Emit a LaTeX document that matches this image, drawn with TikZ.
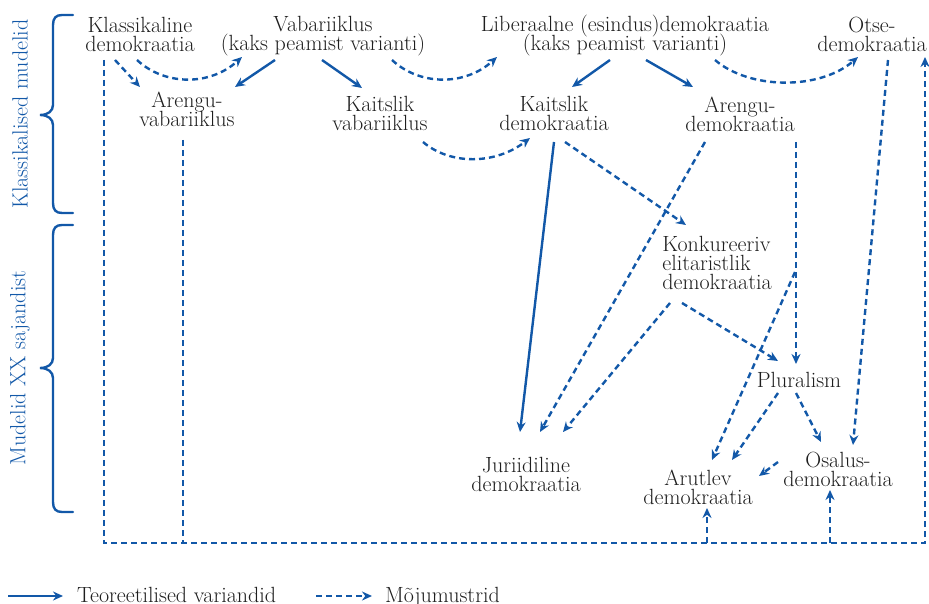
\documentclass[tikz,border=0pt]{standalone}
\usetikzlibrary{arrows.meta,calc}
\definecolor{cblue}{RGB}{18,88,168}
\definecolor{ctext}{RGB}{30,30,30}
\newcommand\mylblfont{\fontsize{22}{19}\selectfont\lineskiplimit=-20pt\relax}
\begin{document}
\begin{tikzpicture}[x=1pt,y=-1pt,
  lbl/.style={inner sep=0pt,align=center,text=ctext,font=\mylblfont},
  side/.style={inner sep=0pt,text=cblue,font=\mylblfont,rotate=90},
  theo/.style={draw=cblue,line width=2.4pt,-{Stealth[length=10pt,width=9pt]}},
  dep/.style={draw=cblue,line width=2.4pt,dash pattern=on 6pt off 4pt,-{Stealth[length=10pt,width=9pt]}},
  depline/.style={draw=cblue,line width=2.4pt,dash pattern=on 6pt off 4pt},
  bracepath/.style={draw=cblue,line width=2.4pt,line cap=round}]
\useasboundingbox (0,0) rectangle (929,604);

% nodes
\node[lbl] (klass) at (140,34) {Klassikaline\\demokraatia};
\node[lbl] (vab) at (323,36.5) {Vabariiklus\\(kaks peamist varianti)};
\node[lbl] (arv) at (187,109) {Arengu-\\vabariiklus};
\node[lbl] (kv) at (380,113) {Kaitslik\\vabariiklus};
\node[lbl] (lib) at (625,36) {Liberaalne (esindus)demokraatia\\(kaks peamist varianti)};
\node[lbl] (otse) at (872,34) {Otse-\\demokraatia};
\node[lbl] (kd) at (554,113.5) {Kaitslik\\demokraatia};
\node[lbl] (ad) at (740,114) {Arengu-\\demokraatia};
\node[lbl,align=left] (konk) at (717,263) {Konkureeriv\\elitaristlik\\demokraatia};
\node[lbl] (plur) at (799,380) {Pluralism};
\node[lbl] (jur) at (526,474) {Juriidiline\\demokraatia};
\node[lbl] (arut) at (698,487) {Arutlev\\demokraatia};
\node[lbl] (osal) at (838,469) {Osalus-\\demokraatia};

\node[side] (sid1) at (20,114) {Klassikalised mudelid};
\node[side] (sid2) at (20,368) {Mudelid XX sajandist};

% braces
\draw[bracepath] (73,15) -- (62,15) .. controls (56,15) and (53,18) .. (53,25) -- (53,105)
  .. controls (53,111) and (48,115) .. (40,115) .. controls (48,115) and (53,119) .. (53,125)
  -- (53,203) .. controls (53,210) and (56,213) .. (62,213) -- (73,213);
\draw[bracepath] (73,225) -- (62,225) .. controls (56,225) and (53,228) .. (53,235) -- (53,358)
  .. controls (53,364) and (48,368) .. (40,368) .. controls (48,368) and (53,372) .. (53,378)
  -- (53,502) .. controls (53,509) and (56,512) .. (62,512) -- (73,512);

% top row connectors
\draw[dep] ($(klass)+(-25,26)$) -- ($(arv)+(-47,-22)$);
\draw[dep] ($(klass)+(-3,26)$) .. controls (165,86) and (210,86) .. ($(vab)+(-81,20.5)$);
\draw[theo] ($(vab)+(-48,23.5)$) -- ($(arv)+(48,-22)$);
\draw[theo] ($(vab)+(-1,23.5)$) -- ($(kv)+(-18,-25)$);
\draw[dep] ($(vab)+(69,23.5)$) .. controls (420,86) and (465,86) .. ($(lib)+(-128,21)$);
\draw[dep] ($(kv)+(43,29)$) .. controls (450,165) and (495,165) .. ($(kd)+(-24,24.5)$);
\draw[theo] ($(lib)+(-15,24)$) -- ($(kd)+(18,-26.5)$);
\draw[theo] ($(lib)+(21,24)$) -- ($(ad)+(-47,-27)$);
\draw[dep] ($(lib)+(90,24)$) .. controls (750,90) and (820,90) .. ($(otse)+(-14,23)$);

% lower connectors
\draw[theo] ($(kd)+(0,28.5)$) -- ($(jur)+(-6,-42)$);
\draw[dep] ($(kd)+(11,28.5)$) -- ($(konk)+(-31,-38)$);
\draw[dep] ($(ad)+(-35,28)$) -- ($(jur)+(14,-42)$);
\draw[dep] ($(konk)+(-47,40)$) -- ($(jur)+(37,-42)$);
\draw[dep] ($(konk)+(-35,40)$) -- ($(plur)+(-21,-19)$);
\draw[dep] ($(ad)+(56,28)$) -- ($(plur)+(-3,-16)$);
\coordinate (brpt) at ($(ad)+(55,158)$);
\draw[dep] (brpt) -- ($(arut)+(14,-27)$);
\draw[dep] ($(plur)+(-21,13)$) -- ($(arut)+(34,-27)$);
\draw[dep] ($(plur)+(-3,13)$) -- ($(osal)+(-17,-27)$);
\draw[dep] ($(otse)+(16,26)$) -- ($(osal)+(15,-24)$);
\draw[dep] ($(osal)+(-60,-7)$) -- ($(arut)+(61,-11)$);

% frame
\coordinate (fbl) at (104,543);
\coordinate (fbr) at (925,543);
\coordinate (fmid) at (183,543);
\coordinate (farut) at (707,543);
\coordinate (fosal) at (830,543);
\draw[dep] ($(klass)+(-36,26)$) -- (fbl) -- (fbr) -- ($(otse)+(53,23)$);
\draw[depline] ($(arv)+(-4,31)$) -- (fmid);
\draw[dep] (farut) -- ($(arut)+(9,21)$);
\draw[dep] (fosal) -- ($(osal)+(-8,21)$);

% legend
\coordinate (l1a) at (8,596);
\coordinate (l1b) at (63,596);
\coordinate (l2a) at (316,596);
\coordinate (l2b) at (372,596);
\draw[theo] (l1a) -- (l1b);
\draw[dep] (l2a) -- (l2b);
\node[lbl,anchor=base west] (leg1) at (77,602) {Teoreetilised variandid};
\node[lbl,anchor=base west] (leg2) at (385,602) {Mõjumustrid};
\end{tikzpicture}
\end{document}
